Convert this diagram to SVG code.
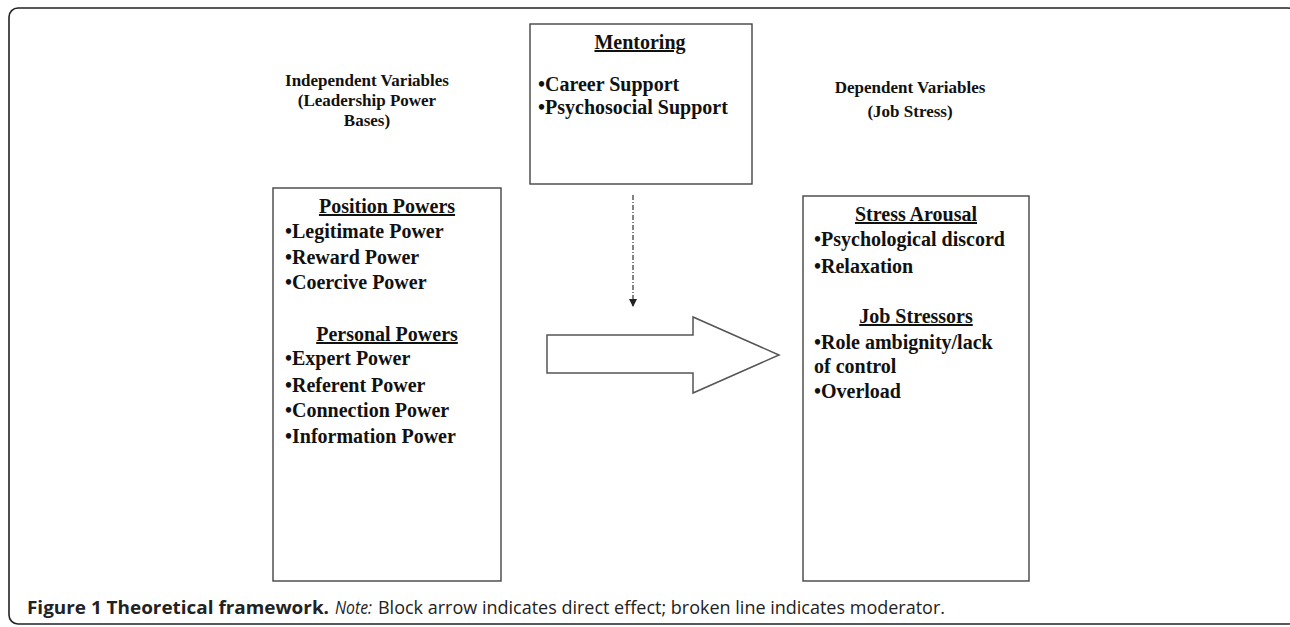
<svg xmlns="http://www.w3.org/2000/svg" width="1290" height="627" viewBox="0 0 1290 627">
<style>
.bx{fill:#fff;stroke:#444;stroke-width:1.4}
.t{font-family:"Liberation Serif","Times New Roman",serif;font-weight:bold;fill:#111}
.hd{font-size:17px}
.it{font-size:20px}
.u{text-decoration:underline}
.cap{font-family:"Open Sans","Liberation Sans",sans-serif;font-size:18px;fill:#222}
</style>
<defs>
<marker id="ah" markerWidth="8" markerHeight="8" refX="7" refY="4" orient="auto" markerUnits="userSpaceOnUse">
<path d="M0,0 L8,4 L0,8 Z" fill="#222"/>
</marker>
</defs>
<rect x="9" y="8" width="1288" height="616" rx="9" fill="none" stroke="#222" stroke-width="1.6"/>

<g id="header-independent">
<text class="t hd" text-anchor="middle" x="367" y="86">Independent Variables</text>
<text class="t hd" text-anchor="middle" x="367" y="106">(Leadership Power</text>
<text class="t hd" text-anchor="middle" x="367" y="126">Bases)</text>
</g>
<g id="header-dependent">
<text class="t hd" text-anchor="middle" x="910" y="93">Dependent Variables</text>
<text class="t hd" text-anchor="middle" x="910" y="117">(Job Stress)</text>
</g>

<g id="mentoring">
<rect class="bx" x="530" y="24" width="222" height="160"/>
<text class="t it u" text-anchor="middle" x="640" y="49">Mentoring</text>
<text class="t it" x="538" y="91">•Career Support</text>
<text class="t it" x="538" y="114">•Psychosocial Support</text>
</g>

<g id="independent-box">
<rect class="bx" x="273" y="188" width="228" height="393"/>
<text class="t it u" text-anchor="middle" x="387" y="213">Position Powers</text>
<text class="t it" x="285" y="238">•Legitimate Power</text>
<text class="t it" x="285" y="264">•Reward Power</text>
<text class="t it" x="285" y="289">•Coercive Power</text>
<text class="t it u" text-anchor="middle" x="387" y="341">Personal Powers</text>
<text class="t it" x="285" y="365">•Expert Power</text>
<text class="t it" x="285" y="392">•Referent Power</text>
<text class="t it" x="285" y="417">•Connection Power</text>
<text class="t it" x="285" y="443">•Information Power</text>
</g>

<g id="dependent-box">
<rect class="bx" x="803" y="196" width="226" height="385"/>
<text class="t it u" text-anchor="middle" x="916" y="221">Stress Arousal</text>
<text class="t it" x="814" y="246">•Psychological discord</text>
<text class="t it" x="814" y="273">•Relaxation</text>
<text class="t it u" text-anchor="middle" x="916" y="323">Job Stressors</text>
<text class="t it" x="814" y="349">•Role ambignity/lack</text>
<text class="t it" x="814" y="373">of control</text>
<text class="t it" x="814" y="398">•Overload</text>
</g>

<g id="connectors">
<path d="M547,335 H693 V317 L779,355 L693,393 V373 H547 Z" fill="#fff" stroke="#555" stroke-width="1.5"/>
<line x1="633" y1="195" x2="633" y2="306" stroke="#333" stroke-width="1.2" stroke-dasharray="5,2,1,2" marker-end="url(#ah)"/>
</g>

<g id="caption">
<text class="cap" x="27" y="614" font-weight="bold" textLength="302" lengthAdjust="spacingAndGlyphs">Figure 1 Theoretical framework.</text>
<text class="cap" x="335" y="614" font-style="italic" textLength="37" lengthAdjust="spacingAndGlyphs">Note:</text>
<text class="cap" x="378" y="614" textLength="567" lengthAdjust="spacingAndGlyphs">Block arrow indicates direct effect; broken line indicates moderator.</text>
</g>
</svg>
